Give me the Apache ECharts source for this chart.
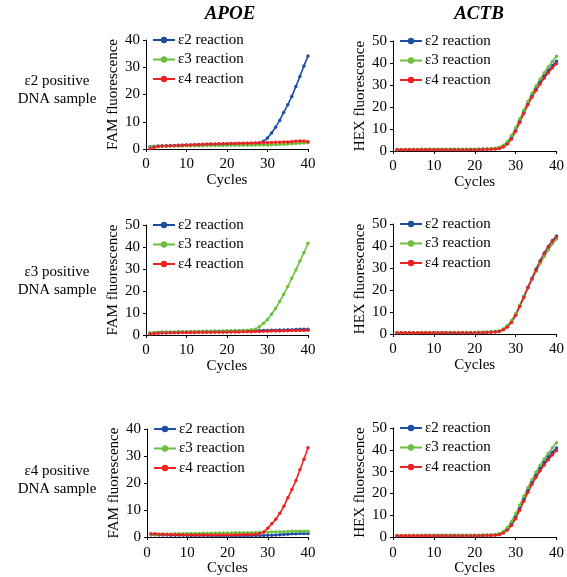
<!DOCTYPE html>
<html>
<head>
<meta charset="utf-8">
<script src="https://cdn.jsdelivr.net/npm/echarts@6/dist/echarts.min.js"></script>
<style>html,body{margin:0;padding:0;background:#fff;}#c{width:567px;height:577px;}</style>
</head>
<body>
<div id="c"></div>
<script>
var cycles = [];
for (var i = 1; i <= 40; i++) cycles.push(i);

var seriesNames = ['ε2 reaction', 'ε3 reaction', 'ε4 reaction'];
var columnTitles = ['APOE', 'ACTB'];
var rowLabels = ['ε2 positive\nDNA sample', 'ε3 positive\nDNA sample', 'ε4 positive\nDNA sample'];
var yNames = ['FAM fluorescence', 'HEX fluorescence'];
var xName = 'Cycles';
var xTicks = [0, 10, 20, 30, 40];
var yMaxApoe = [40, 50, 40];
var yMaxActb = [50, 50, 50];

// Row 1: ε2 positive sample
var apoeE2_e2 = [0.8,1.0,1.1,1.2,1.2,1.3,1.3,1.4,1.4,1.5,1.5,1.6,1.6,1.6,1.7,1.7,1.7,1.8,1.8,1.8,1.9,1.9,1.9,2.0,2.0,2.0,2.1,2.2,2.8,4.0,5.9,8.0,10.5,13.4,16.2,19.3,22.9,26.6,30.5,34.1];
var apoeE2_e3 = [0.6,0.9,1.0,1.0,1.0,1.1,1.1,1.1,1.1,1.2,1.2,1.2,1.2,1.2,1.3,1.3,1.3,1.3,1.3,1.3,1.4,1.4,1.4,1.4,1.4,1.4,1.5,1.5,1.5,1.5,1.6,1.6,1.7,1.7,1.8,1.9,2.0,2.1,2.2,2.3];
var apoeE2_e4 = [0.1,0.6,0.9,1.0,1.1,1.2,1.2,1.3,1.4,1.5,1.5,1.6,1.6,1.7,1.7,1.8,1.8,1.9,1.9,2.0,2.0,2.0,2.1,2.1,2.1,2.2,2.2,2.3,2.3,2.4,2.4,2.5,2.5,2.6,2.6,2.7,2.8,2.9,2.9,2.7];
var actbE2_e2 = [0.6,0.6,0.6,0.7,0.7,0.7,0.7,0.7,0.7,0.7,0.7,0.7,0.7,0.7,0.7,0.7,0.7,0.7,0.7,0.7,0.7,0.8,0.8,0.9,1.0,1.3,2.0,3.5,6.0,9.5,13.5,17.5,21.5,25.0,28.2,31.2,34.0,36.5,38.8,40.8];
var actbE2_e3 = [0.7,0.7,0.7,0.7,0.7,0.7,0.8,0.8,0.8,0.8,0.8,0.8,0.8,0.8,0.8,0.8,0.8,0.8,0.8,0.8,0.9,0.9,1.0,1.1,1.3,1.7,2.6,4.3,7.0,10.5,14.5,18.5,22.5,26.2,29.6,32.7,35.6,38.2,40.7,43.1];
var actbE2_e4 = [0.6,0.6,0.6,0.6,0.6,0.6,0.6,0.6,0.6,0.6,0.6,0.6,0.6,0.6,0.6,0.6,0.6,0.6,0.6,0.6,0.6,0.7,0.7,0.8,0.9,1.1,1.8,3.2,5.5,9.0,13.0,17.0,21.0,24.5,27.6,30.5,33.2,35.6,37.8,39.7];

// Row 2: ε3 positive sample
var apoeE3_e2 = [0.8,1.0,1.1,1.2,1.2,1.3,1.3,1.4,1.4,1.4,1.5,1.5,1.5,1.5,1.6,1.6,1.6,1.6,1.7,1.7,1.7,1.8,1.8,1.8,1.9,1.9,2.0,2.0,2.1,2.1,2.2,2.2,2.3,2.3,2.4,2.4,2.5,2.6,2.6,2.6];
var apoeE3_e3 = [0.9,1.1,1.2,1.3,1.3,1.4,1.4,1.5,1.5,1.5,1.6,1.6,1.6,1.7,1.7,1.7,1.8,1.8,1.8,1.9,1.9,2.0,2.0,2.1,2.2,2.4,2.6,3.8,5.3,7.1,9.4,12.1,15.2,18.5,22.0,25.8,29.5,33.6,37.4,41.7];
var apoeE3_e4 = [0.5,0.7,0.8,0.9,0.9,1.0,1.0,1.0,1.1,1.1,1.1,1.1,1.2,1.2,1.2,1.2,1.3,1.3,1.3,1.3,1.4,1.4,1.4,1.5,1.5,1.5,1.6,1.6,1.7,1.7,1.8,1.8,1.8,1.9,1.9,2.0,2.0,2.1,2.1,2.2];
var actbE3_e2 = [0.6,0.6,0.6,0.6,0.6,0.6,0.6,0.6,0.6,0.6,0.6,0.6,0.6,0.6,0.6,0.6,0.6,0.6,0.6,0.6,0.7,0.7,0.8,0.9,1.0,1.2,2.0,3.5,5.5,8.8,12.8,17.0,21.3,25.3,29.5,33.3,36.8,39.8,42.5,44.6];
var actbE3_e3 = [0.6,0.6,0.6,0.6,0.6,0.6,0.7,0.7,0.7,0.7,0.7,0.7,0.7,0.7,0.7,0.7,0.7,0.7,0.7,0.7,0.8,0.8,0.9,1.0,1.2,1.5,2.3,3.9,6.1,9.2,13.0,16.9,20.9,24.8,28.5,32.0,35.2,38.2,41.0,43.2];
var actbE3_e4 = [0.6,0.6,0.6,0.6,0.6,0.6,0.6,0.6,0.6,0.6,0.6,0.6,0.6,0.6,0.6,0.6,0.6,0.6,0.6,0.6,0.6,0.7,0.7,0.8,0.9,1.1,1.9,3.2,5.2,8.5,12.5,16.6,21.0,25.0,29.0,33.0,36.5,39.5,42.0,44.1];

// Row 3: ε4 positive sample
var apoeE4_e2 = [0.9,0.9,0.8,0.8,0.8,0.7,0.7,0.7,0.7,0.6,0.6,0.6,0.6,0.6,0.6,0.5,0.5,0.5,0.5,0.5,0.5,0.5,0.5,0.5,0.5,0.6,0.6,0.6,0.6,0.7,0.7,0.8,0.9,1.0,1.1,1.2,1.2,1.3,1.3,1.3];
var apoeE4_e3 = [1.0,1.0,1.0,1.1,1.1,1.1,1.2,1.2,1.2,1.3,1.3,1.3,1.3,1.4,1.4,1.4,1.5,1.5,1.5,1.5,1.5,1.6,1.6,1.6,1.6,1.6,1.7,1.7,1.8,1.8,1.9,1.9,2.0,2.0,2.1,2.2,2.2,2.2,2.2,2.2];
var apoeE4_e4 = [1.2,1.2,1.1,1.1,1.0,1.0,0.9,0.9,0.9,0.8,0.8,0.8,0.8,0.8,0.8,0.8,0.8,0.8,0.8,0.8,0.8,0.9,0.9,0.9,1.0,1.0,1.1,1.3,1.9,3.3,4.9,6.6,8.8,11.4,14.6,17.6,20.9,24.9,28.8,33.1];
var actbE4_e2 = [0.6,0.6,0.6,0.7,0.7,0.7,0.7,0.7,0.7,0.7,0.7,0.7,0.7,0.7,0.7,0.7,0.7,0.7,0.7,0.7,0.7,0.8,0.8,0.9,1.0,1.3,2.1,3.6,6.0,9.0,13.0,17.2,21.3,25.0,28.3,31.4,34.2,36.7,38.9,40.8];
var actbE4_e3 = [0.7,0.7,0.7,0.7,0.7,0.7,0.8,0.8,0.8,0.8,0.8,0.8,0.8,0.8,0.8,0.8,0.8,0.8,0.8,0.8,0.9,0.9,1.0,1.1,1.2,1.6,2.6,4.4,7.2,10.6,14.6,18.7,22.6,26.3,29.8,32.9,35.8,38.4,40.9,43.2];
var actbE4_e4 = [0.6,0.6,0.6,0.6,0.6,0.6,0.6,0.6,0.6,0.6,0.6,0.6,0.6,0.6,0.6,0.6,0.6,0.6,0.6,0.6,0.6,0.7,0.7,0.8,0.9,1.1,1.9,3.2,5.4,8.4,12.3,16.4,20.5,24.2,27.4,30.4,33.1,35.5,37.7,39.7];

var panelData = [
  [apoeE2_e2, apoeE2_e3, apoeE2_e4], [actbE2_e2, actbE2_e3, actbE2_e4],
  [apoeE3_e2, apoeE3_e3, apoeE3_e4], [actbE3_e2, actbE3_e3, actbE3_e4],
  [apoeE4_e2, apoeE4_e3, apoeE4_e4], [actbE4_e2, actbE4_e3, actbE4_e4]
];

var colors = ['#1f4ea3', '#6cbf3f', '#ee2222'];
var FONT = '"Liberation Serif", "Times New Roman", serif';

// layout (pixels)
var grids = [
  {left: 146, top: 40, width: 162, height: 109},
  {left: 393, top: 41, width: 166, height: 110},
  {left: 146, top: 225, width: 162, height: 110},
  {left: 393, top: 224, width: 165, height: 110},
  {left: 147, top: 429, width: 161, height: 110},
  {left: 393, top: 428, width: 164, height: 110}
];

var option = {
  animation: false,
  backgroundColor: '#fff',
  title: [],
  grid: [],
  xAxis: [],
  yAxis: [],
  legend: [],
  series: []
};

option.title.push({text: columnTitles[0], left: 225, top: 0, textAlign: 'center',
  textStyle: {fontFamily: FONT, fontSize: 19, fontWeight: 'bold', fontStyle: 'italic', color: '#000'}});
option.title.push({text: columnTitles[1], left: 474, top: 0, textAlign: 'center',
  textStyle: {fontFamily: FONT, fontSize: 19, fontWeight: 'bold', fontStyle: 'italic', color: '#000'}});
var rowTops = [67, 258, 457];
rowLabels.forEach(function (t, r) {
  option.title.push({text: t, left: 52, top: rowTops[r], textAlign: 'center',
    textStyle: {fontFamily: FONT, fontSize: 15, fontWeight: 'normal', color: '#000', lineHeight: 18, align: 'center'}});
});

for (var p = 0; p < 6; p++) {
  var g = grids[p];
  var col = p % 2, row = Math.floor(p / 2);
  var ymax = col === 0 ? yMaxApoe[row] : yMaxActb[row];
  option.grid.push({left: g.left, top: g.top, width: g.width, height: g.height, containLabel: false});
  option.xAxis.push({
    type: 'value', gridIndex: p, min: xTicks[0], max: xTicks[xTicks.length - 1], interval: 10,
    name: xName, nameLocation: 'middle', nameGap: 18,
    nameTextStyle: {fontFamily: FONT, fontSize: 15, color: '#000'},
    axisLine: {show: true, lineStyle: {color: '#000', width: 1}},
    axisTick: {show: true, length: 3, lineStyle: {color: '#000'}},
    axisLabel: {fontFamily: FONT, fontSize: 15, color: '#000', margin: 8},
    splitLine: {show: false}
  });
  option.yAxis.push({
    type: 'value', gridIndex: p, min: 0, max: ymax, interval: 10,
    name: yNames[col], nameLocation: 'middle', nameGap: 25,
    nameTextStyle: {fontFamily: FONT, fontSize: 15, color: '#000'},
    axisLine: {show: true, lineStyle: {color: '#000', width: 1}},
    axisTick: {show: true, length: 3, lineStyle: {color: '#000'}},
    axisLabel: {fontFamily: FONT, fontSize: 15, color: '#000', margin: 6},
    splitLine: {show: false}
  });
  var names = [];
  for (var s = 0; s < 3; s++) {
    var nm = seriesNames[s] + '\u200b'.repeat(p);
    names.push(nm);
    var vals = panelData[p][s];
    var d = [];
    for (var k = 0; k < cycles.length; k++) d.push([cycles[k], vals[k]]);
    option.series.push({
      type: 'line', name: nm, xAxisIndex: p, yAxisIndex: p, data: d,
      color: colors[s], symbol: 'circle', symbolSize: 3.5, showSymbol: true,
      lineStyle: {width: 1.6, color: colors[s]}, itemStyle: {color: colors[s]}
    });
  }
  option.legend.push({
    data: names,
    orient: 'vertical', left: g.left + 6, top: g.top - 8, padding: 0,
    itemWidth: 22, itemHeight: 8, itemGap: 3.5,
    selectedMode: false,
    formatter: function (n) { return n.replace(/\u200b/g, ''); },
    itemStyle: {borderWidth: 0},
    lineStyle: {width: 2},
    textStyle: {fontFamily: FONT, fontSize: 15, color: '#000', lineHeight: 16, padding: [0, 0, 0, -2]}
  });
}

var chart = echarts.init(document.getElementById('c'), null, {renderer: 'canvas'});
chart.setOption(option);
</script>
</body>
</html>
